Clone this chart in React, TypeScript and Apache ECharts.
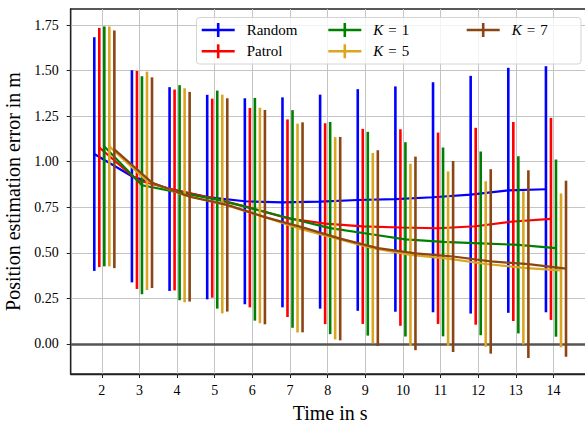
import React, { useEffect, useRef } from "react";
import * as echarts from "echarts";

const times = [2, 3, 4, 5, 6, 7, 8, 9, 10, 11, 12, 13, 14];
const seriesNames = ["Random", "Patrol", "K = 1", "K = 5", "K = 7"];
const seriesColors = ["#0000ff", "#ff0000", "#008000", "#daa520", "#8b4513"];
const xOffsets = [-0.2, -1 / 15, 1 / 15, 0.2, 1 / 3];

const meanRandom = [1.042, 0.92, 0.85, 0.806, 0.783, 0.777, 0.781, 0.79, 0.795, 0.805, 0.819, 0.843, 0.849];
const stdRandom = [0.641, 0.582, 0.559, 0.561, 0.565, 0.576, 0.587, 0.608, 0.618, 0.631, 0.652, 0.672, 0.675];
const meanPatrol = [1.078, 0.9, 0.845, 0.8, 0.748, 0.69, 0.66, 0.645, 0.639, 0.635, 0.646, 0.672, 0.686];
const stdPatrol = [0.656, 0.598, 0.551, 0.546, 0.547, 0.542, 0.551, 0.535, 0.539, 0.525, 0.54, 0.546, 0.554];
const meanK1 = [1.084, 0.871, 0.83, 0.792, 0.739, 0.686, 0.636, 0.605, 0.574, 0.56, 0.552, 0.544, 0.526];
const stdK1 = [0.658, 0.598, 0.59, 0.598, 0.611, 0.597, 0.582, 0.559, 0.533, 0.518, 0.504, 0.486, 0.486];
const meanK5 = [1.084, 0.895, 0.816, 0.768, 0.705, 0.636, 0.58, 0.526, 0.489, 0.468, 0.439, 0.418, 0.404];
const stdK5 = [0.658, 0.599, 0.587, 0.6, 0.591, 0.573, 0.555, 0.522, 0.5, 0.479, 0.454, 0.42, 0.422];
const meanK7 = [1.068, 0.885, 0.808, 0.763, 0.696, 0.64, 0.578, 0.526, 0.497, 0.48, 0.453, 0.438, 0.413];
const stdK7 = [0.652, 0.578, 0.575, 0.585, 0.588, 0.576, 0.558, 0.537, 0.531, 0.524, 0.506, 0.515, 0.483];

const allMeans = [meanRandom, meanPatrol, meanK1, meanK5, meanK7];
const allStds = [stdRandom, stdPatrol, stdK1, stdK5, stdK7];

const xTicks = [2, 3, 4, 5, 6, 7, 8, 9, 10, 11, 12, 13, 14];
const yTicks = [0, 0.25, 0.5, 0.75, 1.0, 1.25, 1.5, 1.75];

const FONT = "Liberation Serif";

export default function App() {
  const ref = useRef<HTMLDivElement>(null);

  useEffect(() => {
    if (!ref.current) return;
    const chart = echarts.init(ref.current, undefined, { renderer: "svg" });

    const series: any[] = [];
    seriesNames.forEach((name, si) => {
      const color = seriesColors[si];
      const off = xOffsets[si];
      const means = allMeans[si];
      const stds = allStds[si];
      series.push({
        type: "custom",
        name,
        z: 2 + si * 2,
        silent: true,
        data: times.map((t, i) => [t + off, means[i] - stds[i], means[i] + stds[i]]),
        encode: { x: 0, y: [1, 2] },
        renderItem: (params: any, api: any) => {
          const p1 = api.coord([api.value(0), api.value(1)]);
          const p2 = api.coord([api.value(0), api.value(2)]);
          return {
            type: "line",
            shape: { x1: p1[0], y1: p1[1], x2: p2[0], y2: p2[1] },
            style: { stroke: color, lineWidth: 2.6 },
          };
        },
      });
      const lineSeries: any = {
        type: "line",
        name,
        z: 3 + si * 2,
        data: times.map((t, i) => [t + off, means[i]]),
        symbol: "none",
        lineStyle: { color, width: 2.2 },
        itemStyle: { color },
      };
      if (si === seriesNames.length - 1) {
        lineSeries.markLine = {
          silent: true,
          symbol: "none",
          label: { show: false },
          lineStyle: { color: "#555555", width: 2.6, type: "solid" },
          data: [{ yAxis: 0 }],
        };
      }
      series.push(lineSeries);
    });

    const legendCols = [201.7, 328.3, 466.7];
    const legendRows = [30, 51.3];
    const graphics: any[] = [
      {
        type: "rect",
        z: 100,
        shape: { x: 196.5, y: 17.5, width: 384.5, height: 46.5, r: 3 },
        style: { fill: "rgba(255,255,255,0.8)", stroke: "#d4d4d4", lineWidth: 1 },
      },
    ];
    seriesNames.forEach((name, si) => {
      const col = Math.floor(si / 2);
      const row = si % 2;
      const x0 = legendCols[col];
      const yc = legendRows[row];
      const color = seriesColors[si];
      graphics.push({
        type: "line",
        z: 101,
        shape: { x1: x0, y1: yc, x2: x0 + 33, y2: yc },
        style: { stroke: color, lineWidth: 2.6 },
      });
      graphics.push({
        type: "line",
        z: 101,
        shape: { x1: x0 + 16.5, y1: yc - 7, x2: x0 + 16.5, y2: yc + 7 },
        style: { stroke: color, lineWidth: 2.6 },
      });
      const isK = name.startsWith("K");
      graphics.push({
        type: "text",
        z: 101,
        x: x0 + 45,
        y: yc,
        style: {
          text: isK ? "{i|K}{e|=}{n|" + name.split("= ")[1] + "}" : name,
          fontFamily: FONT,
          fontSize: 15,
          fill: "#000",
          verticalAlign: "middle",
          rich: {
            i: { fontFamily: FONT, fontSize: 15, fontStyle: "italic", fill: "#000" },
            e: { fontFamily: FONT, fontSize: 15, padding: [0, 5], fill: "#000" },
            n: { fontFamily: FONT, fontSize: 15, fill: "#000" },
          },
        },
      });
    });

    const option: any = {
      animation: false,
      backgroundColor: "#ffffff",
      textStyle: { fontFamily: FONT },
      grid: {
        left: 70.7,
        top: 9,
        right: -4.6,
        bottom: 53,
        outerBoundsMode: "none",
        containLabel: false,
        show: true,
        borderColor: "#222222",
        borderWidth: 1.3,
        backgroundColor: "transparent",
      },
      xAxis: {
        type: "value",
        min: 1.1733,
        max: 14.96,
        name: "Time in s",
        nameLocation: "middle",
        nameGap: 29,
        nameTextStyle: { fontFamily: FONT, fontSize: 20, color: "#000" },
        axisLine: { show: true, onZero: false, lineStyle: { color: "#222222", width: 1.3 } },
        axisTick: { show: true, customValues: xTicks, length: 4, lineStyle: { color: "#222222", width: 1 } },
        axisLabel: {
          customValues: xTicks,
          fontFamily: FONT,
          fontSize: 14,
          color: "#000",
          margin: 9,
        },
        splitLine: { show: true, lineStyle: { color: "#c4c4c4", width: 1 } },
      },
      yAxis: {
        type: "value",
        min: -0.1646,
        max: 1.8378,
        name: "Position estimation error in m",
        nameLocation: "middle",
        nameGap: 42.4,
        nameTextStyle: { fontFamily: FONT, fontSize: 20, color: "#000" },
        axisLine: { show: true, onZero: false, lineStyle: { color: "#222222", width: 1.3 } },
        axisTick: { show: true, customValues: yTicks, length: 4, lineStyle: { color: "#222222", width: 1 } },
        axisLabel: {
          customValues: yTicks,
          fontFamily: FONT,
          fontSize: 14,
          color: "#000",
          margin: 12,
          formatter: (v: number) => v.toFixed(2),
        },
        splitLine: { show: true, lineStyle: { color: "#c4c4c4", width: 1 } },
      },
      series,
      graphic: graphics,
    };

    chart.setOption(option);
    return () => {
      chart.dispose();
    };
  }, []);

  return (
    <div
      ref={ref}
      style={{ position: "fixed", left: 0, top: 0, width: 585, height: 427, background: "#fff" }}
    />
  );
}
